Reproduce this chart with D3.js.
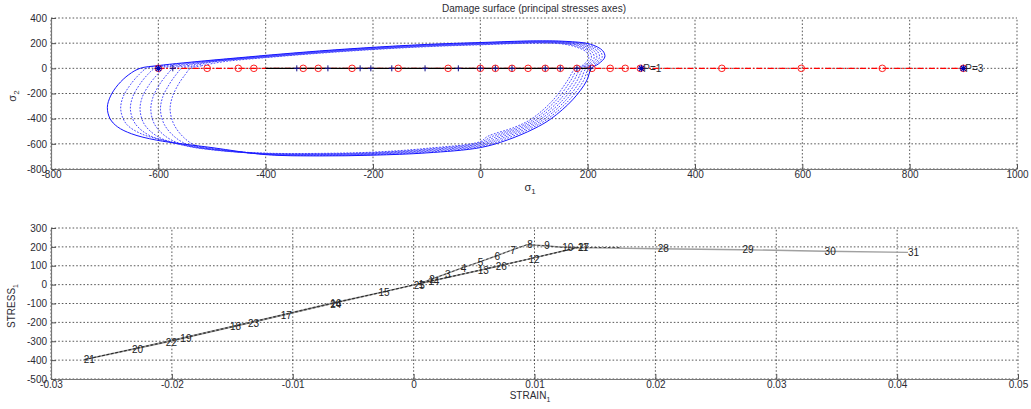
<!DOCTYPE html>
<html><head><meta charset="utf-8">
<script src="https://cdn.jsdelivr.net/npm/d3@7"></script>
<style>
body{margin:0;background:#fff;}
text{font-family:"Liberation Sans",Arial,sans-serif;}
</style></head>
<body><svg id="c" width="1031" height="409"></svg>
<script>
// ---------- DATA: top panel (principal stresses) ----------
const topXTicks = [-800,-600,-400,-200,0,200,400,600,800,1000];
const topXLabels = ["-800","-600","-400","-200","0","200","400","600","800","1000"];
const topYTicks = [-800,-600,-400,-200,0,200,400];
const topYLabels = ["-800","-600","-400","-200","0","200","400"];

// outer (solid) damage surface, [sigma1, sigma2]
const surfaceSolid = [[-634,0],[-600,22],[-500,65],[-400,103],[-300,138],[-200,167],[-100,190],[0,205],[100,218],[160,214],[205,192],[228,140],[232,90],[220,35],[207,0],[198,-100],[172,-250],[132,-400],[100,-480],[50,-570],[0,-630],[-100,-672],[-200,-690],[-300,-696],[-400,-686],[-500,-630],[-603,-571],[-650,-520],[-676,-465],[-690,-400],[-695,-310],[-689,-220],[-675,-130],[-655,-50]];
// inner (dotted) damage surfaces
const surfaceD1 = [[-622,0],[-590,22],[-500,62],[-400,100],[-300,135],[-200,164],[-100,187],[0,202],[100,215],[158,211],[200,189],[223,138],[227,88],[215,33],[202,0],[192,-100],[166,-250],[126,-400],[94,-478],[44,-565],[0,-622],[-100,-666],[-200,-686],[-300,-692],[-400,-684],[-500,-636],[-580,-580],[-632,-520],[-660,-440],[-670,-330],[-666,-230],[-652,-130],[-636,-50]];
const surfaceD2 = [[-606,0],[-575,22],[-500,59],[-400,97],[-300,132],[-200,161],[-100,184],[0,199],[100,212],[156,208],[195,186],[218,136],[222,86],[210,31],[197,0],[186,-100],[160,-250],[120,-400],[88,-476],[38,-560],[0,-614],[-100,-660],[-200,-682],[-300,-688],[-400,-682],[-500,-640],[-570,-595],[-618,-530],[-643,-440],[-652,-330],[-648,-230],[-635,-130],[-620,-50]];
const surfaceD3 = [[-590,0],[-560,22],[-500,56],[-400,94],[-300,129],[-200,158],[-100,181],[0,196],[100,209],[154,205],[190,183],[213,134],[217,84],[205,29],[192,0],[180,-100],[154,-250],[114,-400],[82,-474],[32,-555],[0,-606],[-100,-654],[-200,-678],[-300,-685],[-400,-680],[-500,-645],[-560,-605],[-602,-540],[-626,-445],[-634,-330],[-630,-230],[-617,-130],[-602,-50]];
const surfaceD4 = [[-572,0],[-545,22],[-500,53],[-400,91],[-300,126],[-200,155],[-100,178],[0,193],[100,206],[152,202],[185,180],[208,132],[212,82],[200,27],[187,0],[174,-100],[148,-250],[108,-400],[76,-472],[26,-550],[0,-598],[-100,-648],[-200,-674],[-300,-682],[-400,-678],[-500,-648],[-550,-612],[-585,-545],[-607,-445],[-614,-330],[-610,-230],[-598,-130],[-584,-50]];
const surfaceD5 = [[-556,0],[-535,18],[-500,50],[-400,88],[-300,123],[-200,152],[-100,175],[0,190],[100,203],[150,199],[180,177],[203,130],[207,80],[195,25],[182,0],[168,-100],[142,-250],[102,-400],[70,-470],[20,-545],[0,-590],[-100,-642],[-200,-670],[-300,-679],[-400,-676],[-490,-650],[-540,-615],[-568,-550],[-589,-445],[-596,-330],[-592,-230],[-580,-130],[-567,-50]];
const surfaceD6 = [[-540,0],[-520,20],[-480,52],[-400,85],[-300,120],[-200,149],[-100,172],[0,187],[100,200],[148,196],[175,174],[198,128],[202,78],[190,23],[177,0],[162,-100],[136,-250],[96,-400],[64,-468],[14,-540],[0,-582],[-100,-636],[-200,-666],[-300,-676],[-400,-674],[-480,-652],[-528,-618],[-552,-552],[-571,-445],[-578,-330],[-574,-230],[-563,-130],[-550,-50]];

// load path on sigma2 = 0
const redPathS1 = [-600,-509,-451,-422,-330,-302,-239,-153,-60,0,28,59,89,121,149,180,208,242,270,298,450,598,749,900];
const blackPathS1 = [-400,-342,-284,-224,-204,-165,-103,-41,0,28,59,121,149,180,205,208];
const plusMarkS1 = [-573,-342,-284,-224,-204,-165,-103,-41,0,28,59,121,149,180,205];
const starS1 = [-600,300,900];
const pLabelS1 = [300,900];
const pLabels = ["P=1","P=3"];

// ---------- DATA: bottom panel (stress-strain) ----------
const botXTicks = [-0.03,-0.02,-0.01,0,0.01,0.02,0.03,0.04,0.05];
const botXLabels = ["-0.03","-0.02","-0.01","0","0.01","0.02","0.03","0.04","0.05"];
const botYTicks = [-500,-400,-300,-200,-100,0,100,200,300];
const botYLabels = ["-500","-400","-300","-200","-100","0","100","200","300"];

const stepIds = [1,2,3,4,5,6,7,8,9,10,11,12,13,14,15,16,17,18,19,20,21,22,23,24,25,26,27,28,29,30,31];
const strain1 = [0.0004,0.0013,0.0026,0.0039,0.0053,0.0067,0.0080,0.0094,0.0108,0.0123,0.0136,0.0095,0.0053,0.0012,-0.0029,-0.0069,-0.0110,-0.0152,-0.0193,-0.0233,-0.0273,-0.0205,-0.0137,-0.0069,0.0000,0.0068,0.0136,0.0202,0.0272,0.0340,0.0409];
const stress1 = [2,25,55,86,117,149,180,212,206,198,197,135,74,16,-44,-100,-162,-224,-285,-342,-398,-305,-205,-103,-2,95,196,190,185,177,171];
const dashEnd = [0.0172,197];

// ---------- DRAW ----------
const svg = d3.select("#c");
const txt = "#2b2b33";

function panel(x, y, xt, xl, yt, yl) {
  const g = svg.append("g");
  const [x0,x1r] = x.range(), [y0,y1r] = y.range();
  g.selectAll(".gx").data(xt).join("line")
    .attr("x1", d=>x(d)).attr("x2", d=>x(d)).attr("y1", y0).attr("y2", y1r)
    .attr("stroke","#222").attr("stroke-width",0.75).attr("stroke-dasharray","1.6,2");
  g.selectAll(".gy").data(yt).join("line")
    .attr("y1", d=>y(d)).attr("y2", d=>y(d)).attr("x1", x0).attr("x2", x1r)
    .attr("stroke","#222").attr("stroke-width",0.75).attr("stroke-dasharray","1.6,2");
  const ax = g.append("g").attr("transform",`translate(0,${y0})`)
    .call(d3.axisBottom(x).tickValues(xt).tickFormat((d,i)=>xl[i]).tickSizeInner(-5).tickSizeOuter(0).tickPadding(2));
  const ay = g.append("g").attr("transform",`translate(${x0},0)`)
    .call(d3.axisLeft(y).tickValues(yt).tickFormat((d,i)=>yl[i]).tickSizeInner(-5).tickSizeOuter(0).tickPadding(4));
  [ax,ay].forEach(a=>{
    a.select(".domain").attr("stroke","#777").attr("stroke-width",1.2);
    a.selectAll(".tick line").attr("stroke","#555");
    a.selectAll("text").attr("font-size",10).attr("fill",txt).attr("font-family","Liberation Sans, Arial, sans-serif");
  });
  return g;
}

// ---- top panel ----
const xs1 = d3.scaleLinear([-800,1000],[51,1017]);
const ys1 = d3.scaleLinear([-800,400],[169,18]);
panel(xs1, ys1, topXTicks, topXLabels, topYTicks, topYLabels);

const closed = d3.line().x(d=>xs1(d[0])).y(d=>ys1(d[1])).curve(d3.curveCatmullRomClosed.alpha(0.5));
const dotted = [surfaceD1,surfaceD2,surfaceD3,surfaceD4,surfaceD5,surfaceD6];
svg.append("g").selectAll("path").data(dotted).join("path")
  .attr("d", closed).attr("fill","none").attr("stroke","#2a2aff").attr("stroke-width",1)
  .attr("stroke-dasharray","1.8,1.4").attr("opacity",0.85);
svg.append("path").datum(surfaceSolid).attr("d", closed)
  .attr("fill","none").attr("stroke","#1515ff").attr("stroke-width",1);

const y0top = ys1(0);
svg.append("path").datum(redPathS1)
  .attr("d", d3.line().x(d=>xs1(d)).y(()=>y0top))
  .attr("fill","none").attr("stroke","#ff0000").attr("stroke-width",1.1).attr("stroke-dasharray","6,2,1.5,2");
svg.append("path").datum(blackPathS1)
  .attr("d", d3.line().x(d=>xs1(d)).y(()=>y0top))
  .attr("fill","none").attr("stroke","#000").attr("stroke-width",1.4);
svg.append("g").selectAll("circle").data(redPathS1).join("circle")
  .attr("cx", d=>xs1(d)).attr("cy", y0top).attr("r",3.3)
  .attr("fill","none").attr("stroke","#ff2020").attr("stroke-width",1);
svg.append("g").selectAll("path").data(plusMarkS1).join("path")
  .attr("d", d=>{const p=d3.path(), cx=xs1(d), cy=y0top, s=3;
     p.moveTo(cx-s,cy); p.lineTo(cx+s,cy); p.moveTo(cx,cy-s); p.lineTo(cx,cy+s); return p.toString();})
  .attr("stroke","#10108a").attr("stroke-width",1);
svg.append("g").selectAll("path").data(starS1).join("path")
  .attr("d", d=>{const p=d3.path(), cx=xs1(d), cy=y0top, s=3.5, t=2.5;
     p.moveTo(cx-s,cy); p.lineTo(cx+s,cy); p.moveTo(cx,cy-s); p.lineTo(cx,cy+s);
     p.moveTo(cx-t,cy-t); p.lineTo(cx+t,cy+t); p.moveTo(cx-t,cy+t); p.lineTo(cx+t,cy-t); return p.toString();})
  .attr("stroke","#0000b0").attr("stroke-width",1.2);
svg.append("g").selectAll("text").data(pLabelS1).join("text")
  .attr("x", d=>xs1(d)+2).attr("y", y0top).attr("dy","0.35em")
  .attr("font-size",10).attr("fill",txt).text((d,i)=>pLabels[i]);

svg.append("text").attr("x",534).attr("y",12).attr("text-anchor","middle")
  .attr("font-size",10).attr("fill",txt).text("Damage surface (principal stresses axes)");
const sx = svg.append("text").attr("x",530).attr("y",191).attr("text-anchor","middle").attr("font-size",11).attr("fill",txt);
sx.append("tspan").text("σ"); sx.append("tspan").attr("font-size",8).attr("dy",3).text("1");
const sy = svg.append("text").attr("transform","translate(16,96) rotate(-90)").attr("text-anchor","middle").attr("font-size",11).attr("fill",txt);
sy.append("tspan").text("σ"); sy.append("tspan").attr("font-size",8).attr("dy",3).text("2");

// ---- bottom panel ----
const xs2 = d3.scaleLinear([-0.03,0.05],[51,1018]);
const ys2 = d3.scaleLinear([-500,300],[379,228]);
panel(xs2, ys2, botXTicks, botXLabels, botYTicks, botYLabels);

const pts = stepIds.map((id,i)=>({id, e:strain1[i], s:stress1[i]}));
const ln = d3.line().x(d=>xs2(d.e)).y(d=>ys2(d.s));
svg.append("path").datum(pts).attr("d", ln)
  .attr("fill","none").attr("stroke","#a0a0a0").attr("stroke-width",1.4);
const dashPts = pts.slice(0,27).concat([{e:dashEnd[0], s:dashEnd[1]}]);
svg.append("path").datum(dashPts).attr("d", ln)
  .attr("fill","none").attr("stroke","#222").attr("stroke-width",0.8).attr("stroke-dasharray","2.5,2");
svg.append("g").selectAll("text").data(pts).join("text")
  .attr("x", d=>xs2(d.e)).attr("y", d=>ys2(d.s)).attr("dy","0.35em")
  .attr("font-size",10).attr("fill","#222").text(d=>String(d.id));

const bx = svg.append("text").attr("x",530).attr("y",399).attr("text-anchor","middle").attr("font-size",10).attr("fill",txt);
bx.append("tspan").text("STRAIN"); bx.append("tspan").attr("font-size",7).attr("dy",3).text("1");
const by = svg.append("text").attr("transform","translate(15,306) rotate(-90)").attr("text-anchor","middle").attr("font-size",10).attr("fill",txt);
by.append("tspan").text("STRESS"); by.append("tspan").attr("font-size",7).attr("dy",3).text("1");
</script></body></html>
